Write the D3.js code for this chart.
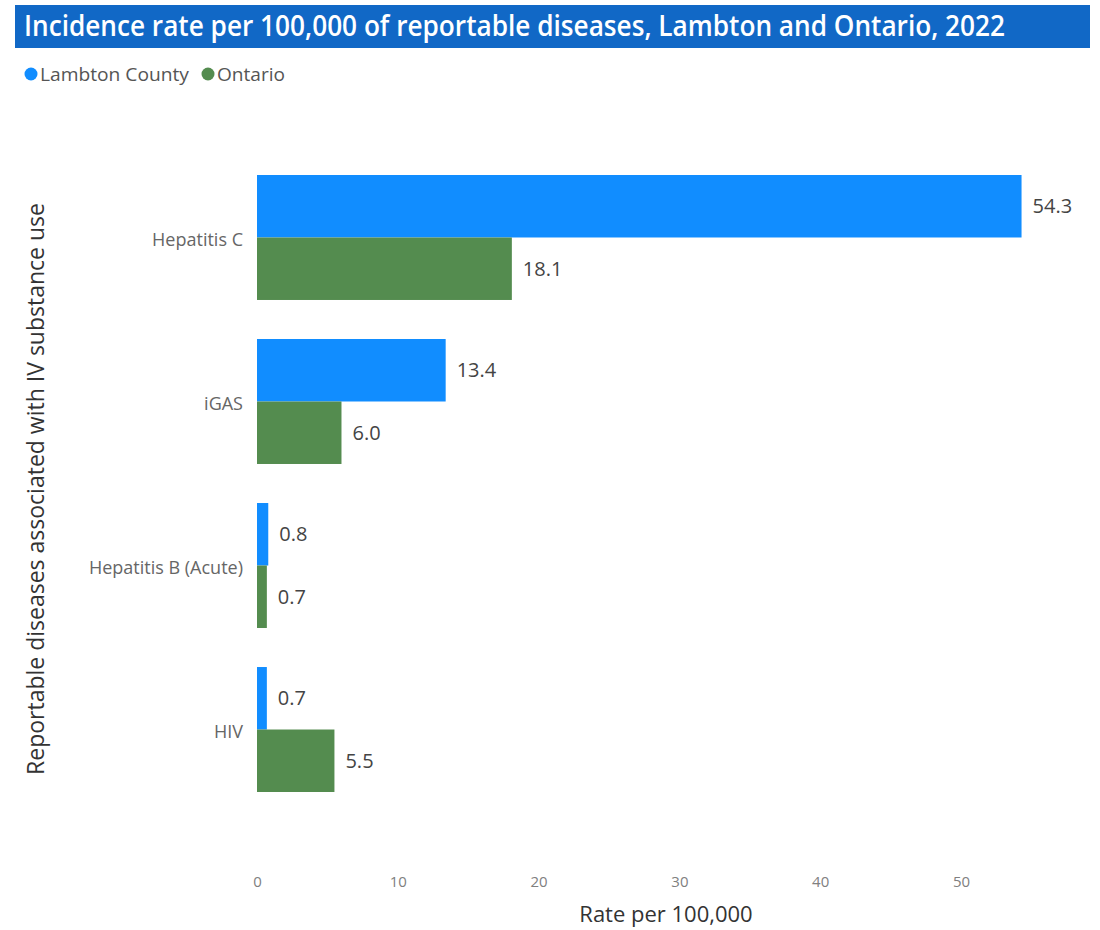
<!DOCTYPE html>
<html><head><meta charset="utf-8">
<script src="https://cdn.jsdelivr.net/npm/d3@7"></script>
<style>body{margin:0;background:#fff}svg{display:block}text{font-family:"Open Sans","Noto Sans",sans-serif}</style>
</head><body>
<script>
const categories = ["Hepatitis C","iGAS","Hepatitis B (Acute)","HIV"];
const seriesNames = ["Lambton County","Ontario"];
const lambton = [54.3,13.4,0.8,0.7];
const ontario = [18.1,6.0,0.7,5.5];
const xTicks = [0,10,20,30,40,50];
const colors = ["#118DFF","#548C4F"];

const W=1100,H=930;
const svg=d3.select("body").append("svg").attr("width",W).attr("height",H);

// title bar
svg.append("rect").attr("x",15).attr("y",5).attr("width",1075).attr("height",43).attr("fill","#1168C6");
svg.append("text").attr("x",24).attr("y",36).attr("fill","#fff").attr("font-size",28).attr("font-weight",600)
  .attr("textLength",981).attr("lengthAdjust","spacingAndGlyphs")
  .text("Incidence rate per 100,000 of reportable diseases, Lambton and Ontario, 2022");

// legend
const leg=svg.append("g");
const legLens=[149,68];
let lx=31;
seriesNames.forEach((n,i)=>{
  leg.append("circle").attr("cx",lx).attr("cy",74).attr("r",6.5).attr("fill",colors[i]);
  leg.append("text").attr("x",lx+9).attr("y",81).attr("font-size",19).attr("fill","#555")
    .attr("textLength", legLens[i]).attr("lengthAdjust","spacingAndGlyphs").text(n);
  lx += 9 + legLens[i] + 19;
});

const x=d3.scaleLinear().domain([0,50]).range([257,961]);
const y=d3.scaleBand().domain(categories).range([175,792]).paddingInner(0.238).paddingOuter(0);
const sub=d3.scaleBand().domain(seriesNames).range([0,y.bandwidth()]);

const data=categories.map((c,i)=>({cat:c,vals:[lambton[i],ontario[i]]}));
const g=svg.append("g");
data.forEach(d=>{
  d.vals.forEach((v,j)=>{
    const yy=y(d.cat)+sub(seriesNames[j]);
    g.append("rect").attr("x",x(0)).attr("y",yy).attr("width",x(v)-x(0)).attr("height",sub.bandwidth()).attr("fill",colors[j]);
    g.append("text").attr("x",x(v)+11).attr("y",yy+sub.bandwidth()/2).attr("dy","0.36em")
      .attr("font-size",20).attr("font-weight",500).attr("fill","#444").text(d3.format(".1f")(v));
  });
});

// y category labels
const yAxis=svg.append("g").attr("transform",`translate(${243},0)`)
  .call(d3.axisLeft(y).tickSize(0).tickPadding(0));
yAxis.select(".domain").remove();
yAxis.selectAll("text").attr("font-size",18).attr("fill","#666").attr("font-family","'Open Sans',sans-serif").attr("dy","0.45em");

// x axis
const xAxis=svg.append("g").attr("transform","translate(0,876)")
  .call(d3.axisBottom(x).tickValues(xTicks).tickSize(0).tickPadding(0));
xAxis.select(".domain").remove();
xAxis.selectAll("text").attr("font-size",15).attr("fill","#808080").attr("font-family","'Open Sans',sans-serif");

svg.append("text").attr("x",666).attr("y",922).attr("text-anchor","middle").attr("font-size",22).attr("fill","#333").text("Rate per 100,000");
svg.append("text").attr("transform","translate(44,489) rotate(-90)").attr("text-anchor","middle").attr("font-size",23).attr("fill","#333").text("Reportable diseases associated with IV substance use");
</script>
</body></html>
